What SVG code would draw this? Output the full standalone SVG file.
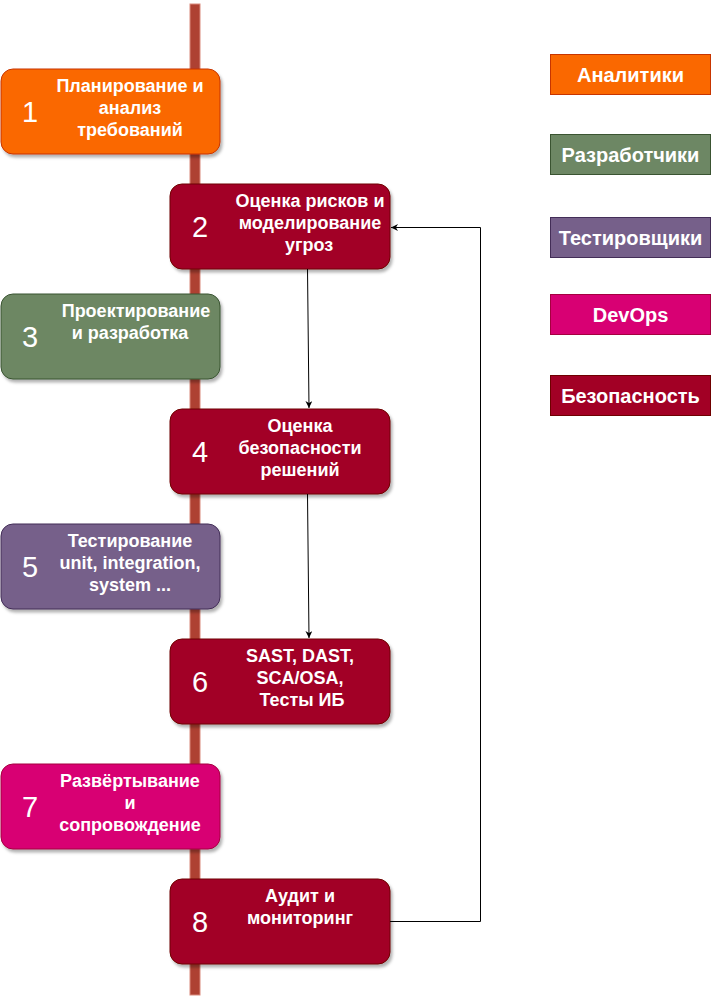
<svg xmlns="http://www.w3.org/2000/svg" width="712" height="1000" viewBox="0 0 712 1000">
<style>
.t{font-family:"Liberation Sans",Arial,sans-serif;font-weight:bold;font-size:18px;fill:#fff;text-anchor:middle}
.n{font-family:"Liberation Sans",Arial,sans-serif;font-size:29px;fill:#fff;text-anchor:middle}
.lg{font-family:"Liberation Sans",Arial,sans-serif;font-weight:bold;font-size:20px;fill:#fff;text-anchor:middle}
.c{fill:none;stroke:#000;stroke-width:1}
.or{fill:#fa6800;stroke:#c73500}
.gr{fill:#6d8764;stroke:#3a5431}
.pu{fill:#76608a;stroke:#432d57}
.pk{fill:#d80073;stroke:#a50040}
.rd{fill:#a20025;stroke:#6f0000}
</style>
<defs>
<filter id="sh" x="-10%" y="-10%" width="130%" height="140%">
<feDropShadow dx="2" dy="3" stdDeviation="1.5" flood-color="#000" flood-opacity="0.3"/>
</filter>
<marker id="ar" viewBox="0 0 10 10" refX="10" refY="5" markerWidth="7" markerHeight="7" orient="auto" markerUnits="userSpaceOnUse">
<path d="M0,0 L10,5 L0,10 L3,5 Z" fill="#000"/>
</marker>
</defs>
<rect x="190" y="4" width="10" height="991" fill="#ae4132" stroke="#d98a7c" stroke-width="1"/>
<g id="node1">
<rect x="1" y="69" width="219" height="85" rx="12" class="or" filter="url(#sh)"/>
<text x="30" y="122" class="n">1</text>
<text class="t"><tspan x="130" y="92">Планирование и</tspan><tspan x="130" y="114">анализ</tspan><tspan x="130" y="136">требований</tspan></text>
</g>
<g id="node2">
<rect x="170" y="184" width="220" height="85" rx="12" class="rd" filter="url(#sh)"/>
<text x="200" y="237" class="n">2</text>
<text class="t"><tspan x="310" y="207">Оценка рисков и</tspan><tspan x="310" y="229">моделирование</tspan><tspan x="309" y="251">угроз</tspan></text>
</g>
<g id="node3">
<rect x="1" y="294" width="219" height="85" rx="12" class="gr" filter="url(#sh)"/>
<text x="30" y="347" class="n">3</text>
<text class="t"><tspan x="136" y="317">Проектирование</tspan><tspan x="130" y="339">и разработка</tspan></text>
</g>
<g id="node4">
<rect x="170" y="409" width="220" height="85" rx="12" class="rd" filter="url(#sh)"/>
<text x="200" y="462" class="n">4</text>
<text class="t"><tspan x="300" y="432">Оценка</tspan><tspan x="300" y="454">безопасности</tspan><tspan x="300" y="476">решений</tspan></text>
</g>
<g id="node5">
<rect x="1" y="524" width="219" height="85" rx="12" class="pu" filter="url(#sh)"/>
<text x="30" y="577" class="n">5</text>
<text class="t"><tspan x="130" y="547">Тестирование</tspan><tspan x="130" y="569">unit, integration,</tspan><tspan x="130" y="591">system ...</tspan></text>
</g>
<g id="node6">
<rect x="170" y="639" width="220" height="85" rx="12" class="rd" filter="url(#sh)"/>
<text x="200" y="692" class="n">6</text>
<text class="t"><tspan x="300" y="662">SAST, DAST,</tspan><tspan x="300" y="684">SCA/OSA,</tspan><tspan x="302" y="706">Тесты ИБ</tspan></text>
</g>
<g id="node7">
<rect x="1" y="764" width="219" height="85" rx="12" class="pk" filter="url(#sh)"/>
<text x="30" y="817" class="n">7</text>
<text class="t"><tspan x="130" y="787">Развёртывание</tspan><tspan x="130" y="809">и</tspan><tspan x="130" y="831">сопровождение</tspan></text>
</g>
<g id="node8">
<rect x="170" y="879" width="220" height="85" rx="12" class="rd" filter="url(#sh)"/>
<text x="200" y="932" class="n">8</text>
<text class="t"><tspan x="300" y="902">Аудит и</tspan><tspan x="300" y="924">мониторинг</tspan></text>
</g>
<g id="legend">
<rect x="550.5" y="54.5" width="160" height="40" class="or"/>
<text x="630.5" y="81.5" class="lg">Аналитики</text>
<rect x="550.5" y="134.5" width="160" height="40" class="gr"/>
<text x="630.5" y="161.5" class="lg">Разработчики</text>
<rect x="550.5" y="217.5" width="160" height="40" class="pu"/>
<text x="630.5" y="244.5" class="lg">Тестировщики</text>
<rect x="550.5" y="294.5" width="160" height="40" class="pk"/>
<text x="630.5" y="321.5" class="lg">DevOps</text>
<rect x="550.5" y="375.5" width="160" height="40" class="rd"/>
<text x="630.5" y="402.5" class="lg">Безопасность</text>
</g>
<g id="connectors">
<path d="M307.5,269 L309,408" class="c" marker-end="url(#ar)"/>
<path d="M307.5,494 L309,638" class="c" marker-end="url(#ar)"/>
<path d="M390,921.5 L480.5,921.5 L480.5,227.5 L391,227.5" class="c" marker-end="url(#ar)"/>
</g>
</svg>
